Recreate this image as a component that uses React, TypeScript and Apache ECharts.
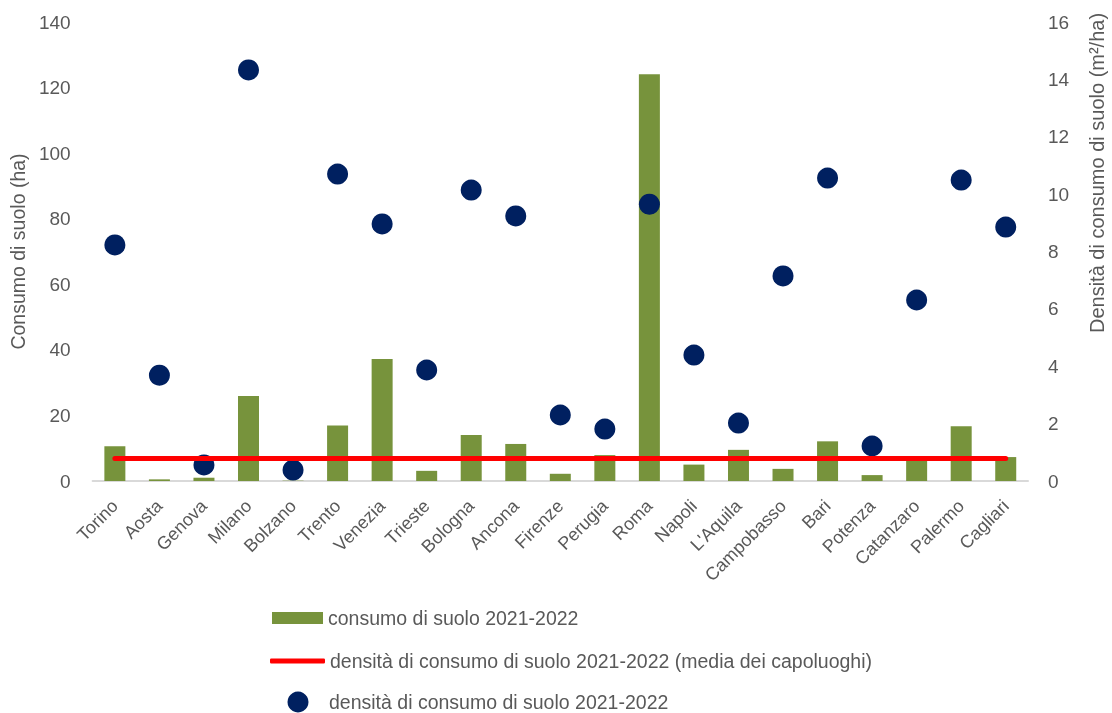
import React, { useEffect, useRef } from "react";
import * as echarts from "echarts";

const cities = ["Torino", "Aosta", "Genova", "Milano", "Bolzano", "Trento", "Venezia", "Trieste", "Bologna", "Ancona", "Firenze", "Perugia", "Roma", "Napoli", "L'Aquila", "Campobasso", "Bari", "Potenza", "Catanzaro", "Palermo", "Cagliari"];
const consumo = [10.6, 0.5, 1.0, 25.9, 0.1, 16.9, 37.2, 3.1, 14.0, 11.3, 2.2, 7.9, 124.1, 5.0, 9.5, 3.7, 12.1, 1.8, 7.5, 16.7, 7.3];
const densita = [8.23, 3.69, 0.56, 14.33, 0.38, 10.7, 8.96, 3.87, 10.14, 9.24, 2.3, 1.81, 9.65, 4.39, 2.02, 7.15, 10.56, 1.22, 6.31, 10.49, 8.85];
const mediaCapoluoghi = 0.78;
const leftTicks = { min: 0, max: 140, interval: 20 };
const rightTicks = { min: 0, max: 16, interval: 2 };

const nameBar = "consumo di suolo 2021-2022";
const nameLine = "densità di consumo di suolo 2021-2022 (media dei capoluoghi)";
const nameDot = "densità di consumo di suolo 2021-2022";

const FONT = "'Liberation Sans Narrow', 'Arial Narrow', 'Liberation Sans', Arial, sans-serif";
const TXT = "#595959";
const NAVY = "#002060";

export default function App() {
  const ref = useRef<HTMLDivElement>(null);
  useEffect(() => {
    if (!ref.current) return;
    const chart = echarts.init(ref.current, undefined, { renderer: "svg" });
    const legendBase = {
      orient: "horizontal",
      itemGap: 0,
      padding: 0,
      textStyle: { color: TXT, fontSize: 19.5, fontFamily: FONT },
      selectedMode: false,
    };
    chart.setOption({
      animation: false,
      textStyle: { fontFamily: FONT },
      grid: { left: 88, right: 84, top: 22, bottom: 232 },
      legend: [
        { ...legendBase, data: [{ name: nameBar, icon: "rect" }], left: 272, top: 608, itemWidth: 51, itemHeight: 12 },
        { ...legendBase, data: [{ name: nameLine, icon: "roundRect" }], left: 270, top: 651, itemWidth: 55, itemHeight: 5 },
      ],
      xAxis: {
        type: "category",
        data: cities,
        axisLine: { lineStyle: { color: "#D9D9D9", width: 2 } },
        axisTick: { show: false },
        axisLabel: { rotate: 45, color: TXT, fontSize: 18, fontFamily: FONT, margin: 22, interval: 0 },
      },
      yAxis: [
        {
          type: "value",
          ...leftTicks,
          name: "Consumo di suolo (ha)",
          nameLocation: "middle",
          nameGap: 61,
          nameTextStyle: { color: TXT, fontSize: 19.5, fontFamily: FONT },
          axisLabel: { color: TXT, fontSize: 19, fontFamily: FONT, margin: 22 },
          splitLine: { show: false },
          axisLine: { show: false },
          axisTick: { show: false },
        },
        {
          type: "value",
          ...rightTicks,
          axisLabel: { color: TXT, fontSize: 19, fontFamily: FONT, margin: 20 },
          splitLine: { show: false },
          axisLine: { show: false },
          axisTick: { show: false },
        },
      ],
      graphic: [
        {
          type: "text",
          x: 1097,
          y: 173,
          rotation: Math.PI / 2,
          style: {
            text: "Densità di consumo di suolo (m²/ha)",
            fill: TXT,
            fontSize: 20,
            fontFamily: FONT,
            align: "center",
            verticalAlign: "middle",
          },
        },
        {
          type: "circle",
          shape: { cx: 298, cy: 702, r: 10.5 },
          style: { fill: NAVY },
        },
        {
          type: "text",
          x: 329,
          y: 702,
          style: {
            text: nameDot,
            fill: TXT,
            fontSize: 19.5,
            fontFamily: FONT,
            align: "left",
            verticalAlign: "middle",
          },
        },
      ],
      series: [
        {
          name: nameBar,
          type: "bar",
          data: consumo,
          barWidth: 21,
          itemStyle: { color: "#77933C" },
        },
        {
          name: nameLine,
          type: "line",
          yAxisIndex: 1,
          data: cities.map(() => mediaCapoluoghi),
          symbol: "none",
          lineStyle: { color: "#FF0000", width: 5, cap: "round" },
          itemStyle: { color: "#FF0000" },
        },
        {
          name: nameDot,
          type: "scatter",
          yAxisIndex: 1,
          data: densita,
          symbol: "circle",
          symbolSize: 21,
          itemStyle: { color: NAVY, opacity: 1 },
        },
      ],
    });
    return () => chart.dispose();
  }, []);
  return <div ref={ref} style={{ position: "fixed", left: 0, top: 0, width: 1112, height: 713 }} />;
}
